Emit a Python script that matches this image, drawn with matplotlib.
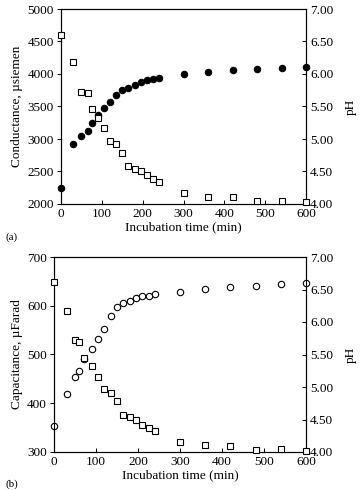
import matplotlib
matplotlib.use("Agg")
import matplotlib.pyplot as plt

plt.rcParams['font.family'] = ['Liberation Serif', 'DejaVu Serif']
plt.rcParams['font.size'] = 9.5

# incubation times (min)
time_a = [0, 30, 50, 65, 75, 90, 105, 120, 135, 150, 165, 180, 195, 210, 225, 240, 300, 360, 420, 480, 540, 600]
time_b = [0, 30, 50, 60, 72, 90, 105, 120, 135, 150, 165, 180, 195, 210, 225, 240, 300, 360, 420, 480, 540, 600]

conductance = [2240, 2920, 3046, 3123, 3251, 3369, 3472, 3574, 3677, 3754, 3790, 3831,
               3877, 3903, 3923, 3944, 4000, 4031, 4056, 4082, 4092, 4108]
ph_a = [6.60, 6.18, 5.73, 5.70, 5.46, 5.33, 5.17, 4.97, 4.92, 4.79, 4.58, 4.54,
        4.51, 4.44, 4.38, 4.34, 4.17, 4.11, 4.10, 4.05, 4.05, 4.03]

capacitance = [354, 418, 454, 466, 491, 512, 532, 552, 579, 597, 605, 609,
               616, 620, 621, 624, 629, 634, 638, 640, 644, 646]
ph_b = [6.61, 6.17, 5.73, 5.70, 5.45, 5.33, 5.16, 4.97, 4.91, 4.78, 4.57, 4.54,
        4.50, 4.42, 4.37, 4.33, 4.16, 4.11, 4.09, 4.03, 4.04, 4.02]

W, H = 363, 490
fig = plt.figure(figsize=(W / 100, H / 100), dpi=100)


def panel(left, top, right, bottom, t, left_vals, ph, ylim, yticks, ylabel, filled, tag, tag_y):
    ax = fig.add_axes([left / W, 1 - bottom / H, (right - left) / W, (bottom - top) / H])
    ax2 = ax.twinx()
    ax.plot(t, left_vals, 'o', ms=4.6, mfc='black' if filled else 'white', mec='black',
            mew=0.8, clip_on=False, zorder=5)
    ax2.plot(t, ph, 's', ms=4.3, mfc='white', mec='black', mew=0.8, clip_on=False, zorder=5)
    ax.set_xlim(0, 600)
    ax.set_ylim(*ylim)
    ax.set_yticks(yticks)
    ax.set_xticks(range(0, 601, 100))
    ax2.set_ylim(4.0, 7.0)
    ax2.set_yticks([4.0, 4.5, 5.0, 5.5, 6.0, 6.5, 7.0])
    ax2.set_yticklabels([f"{v:.2f}" for v in ax2.get_yticks()])
    ax.tick_params(axis='x', direction='in', length=3, width=0.7, labelsize=9.5, pad=3)
    ax.tick_params(axis='y', direction='out', length=3, width=0.7, labelsize=9.5, pad=2)
    ax2.tick_params(axis='y', direction='in', length=3, width=0.7, labelsize=9.5, pad=3)
    for a in (ax, ax2):
        for s in a.spines.values():
            s.set_linewidth(0.8)
    ax.set_xlabel("Incubation time (min)", fontsize=9.5, labelpad=1)
    ax.set_ylabel(ylabel, fontsize=9.5, labelpad=3)
    ax2.set_ylabel("pH", fontsize=9.5, rotation=90, labelpad=8)
    fig.text(6 / W, 1 - tag_y / H, tag, fontsize=8, va='center')
    return ax


panel(61, 9, 306, 204, time_a, conductance, ph_a, (2000, 5000), range(2000, 5001, 500),
      "Conductance, \u00b5siemen", True, "(a)", 237)
panel(54, 257, 306, 452, time_b, capacitance, ph_b, (300, 700), range(300, 701, 100),
      "Capacitance, \u00b5Farad", False, "(b)", 484)

fig.savefig("out.png", dpi=100)
